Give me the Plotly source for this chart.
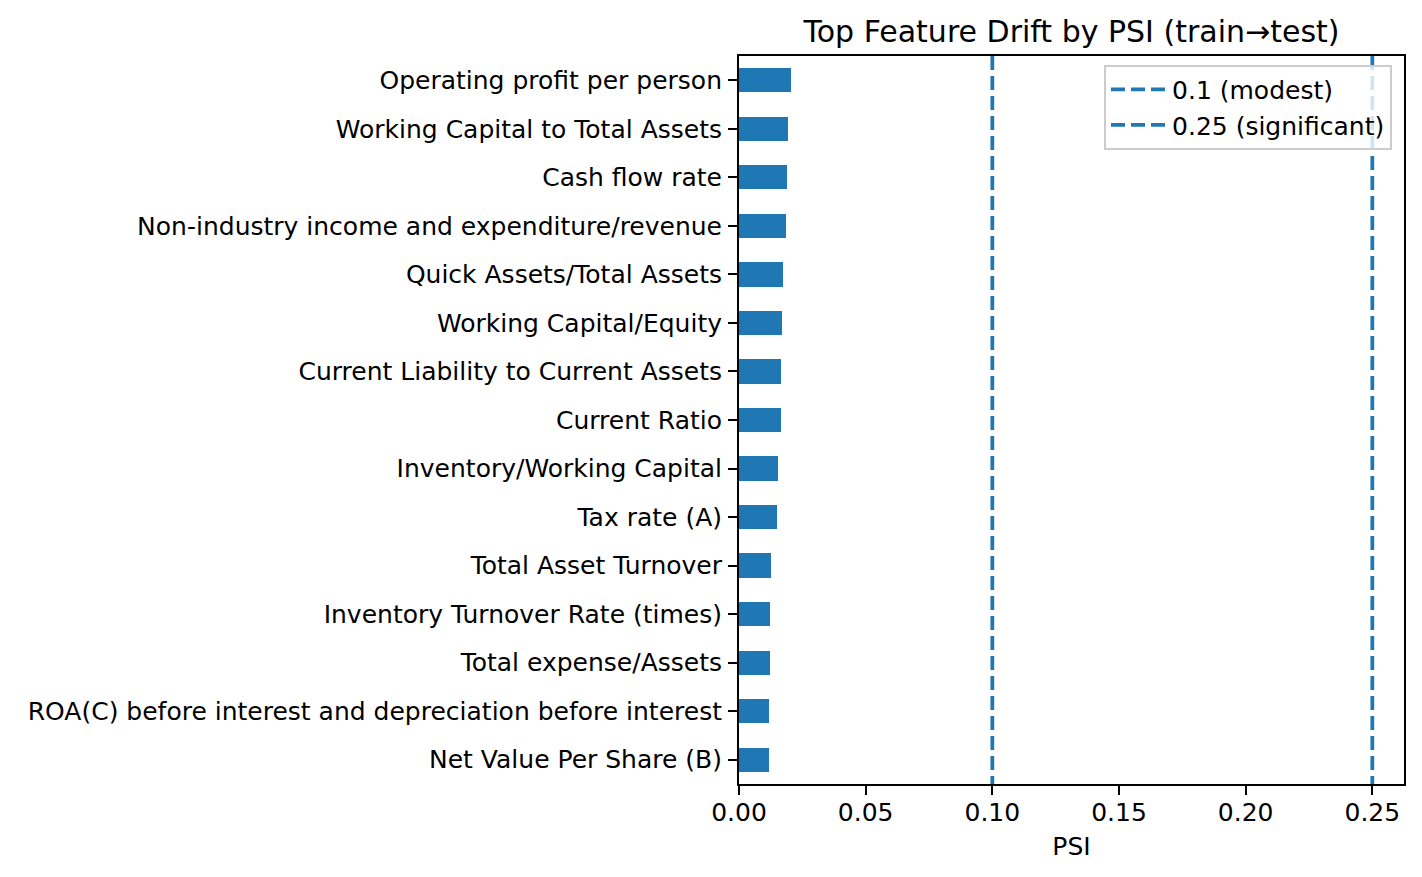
import plotly.graph_objects as go

features = [
    "Operating profit per person",
    "Working Capital to Total Assets",
    "Cash flow rate",
    "Non-industry income and expenditure/revenue",
    "Quick Assets/Total Assets",
    "Working Capital/Equity",
    "Current Liability to Current Assets",
    "Current Ratio",
    "Inventory/Working Capital",
    "Tax rate (A)",
    "Total Asset Turnover",
    "Inventory Turnover Rate (times)",
    "Total expense/Assets",
    "ROA(C) before interest and depreciation before interest",
    "Net Value Per Share (B)",
]
psi = [0.0205, 0.0193, 0.0189, 0.0185, 0.0174, 0.0170, 0.0166, 0.0165,
       0.0154, 0.0150, 0.0126, 0.0122, 0.0121, 0.0118, 0.0117]

thresholds = [0.1, 0.25]
threshold_names = ["0.1 (modest)", "0.25 (significant)"]

BLUE = "#1f77b4"
FONT = "DejaVu Sans"
n = len(features)
pos = list(range(n))

fig = go.Figure()
fig.add_trace(go.Bar(
    x=psi, y=pos, orientation="h", width=0.5,
    marker=dict(color=BLUE, line=dict(width=0)),
    showlegend=False, hoverinfo="x+text", text=features, textposition="none",
))
for t, name in zip(thresholds, threshold_names):
    fig.add_trace(go.Scatter(
        x=[t, t], y=[-0.5, n - 0.5], mode="lines", name=name,
        line=dict(color=BLUE, dash="14px,6px", width=3.75),
    ))

# page body has an 8px margin, so the figure is drawn 8px smaller
fig.update_layout(
    width=1414, height=869,
    margin=dict(l=731, r=18, t=48, b=93),
    plot_bgcolor="white", paper_bgcolor="white",
    font=dict(family=FONT, size=25, color="black"),
    title=dict(text="Top Feature Drift by PSI (train→test)", xref="paper", x=0.5,
               xanchor="center", y=0.9735, yanchor="middle", font=dict(size=30)),
    legend=dict(x=0.982, y=0.988, xanchor="right", yanchor="top",
                bgcolor="rgba(255,255,255,0.8)", bordercolor="#cccccc", borderwidth=2,
                font=dict(size=25), tracegroupgap=0, itemwidth=56),
    bargap=0,
)
fig.update_xaxes(
    range=[0, 0.2625], tickvals=[0, 0.05, 0.10, 0.15, 0.20, 0.25], tickformat=".2f",
    showline=True, linecolor="black", linewidth=2, mirror=True,
    ticks="outside", ticklen=9, tickwidth=2, tickcolor="black",
    ticklabelstandoff=-4,
    showgrid=False, zeroline=False,
    title=dict(text="PSI", standoff=11, font=dict(size=25)),
)
fig.update_yaxes(
    range=[n - 0.5, -0.5], tickvals=pos, ticktext=features,
    showline=True, linecolor="black", linewidth=2, mirror=True,
    ticks="outside", ticklen=9, tickwidth=2, tickcolor="black",
    ticklabelstandoff=1,
    showgrid=False, zeroline=False,
)

fig.write_html("out.html")
